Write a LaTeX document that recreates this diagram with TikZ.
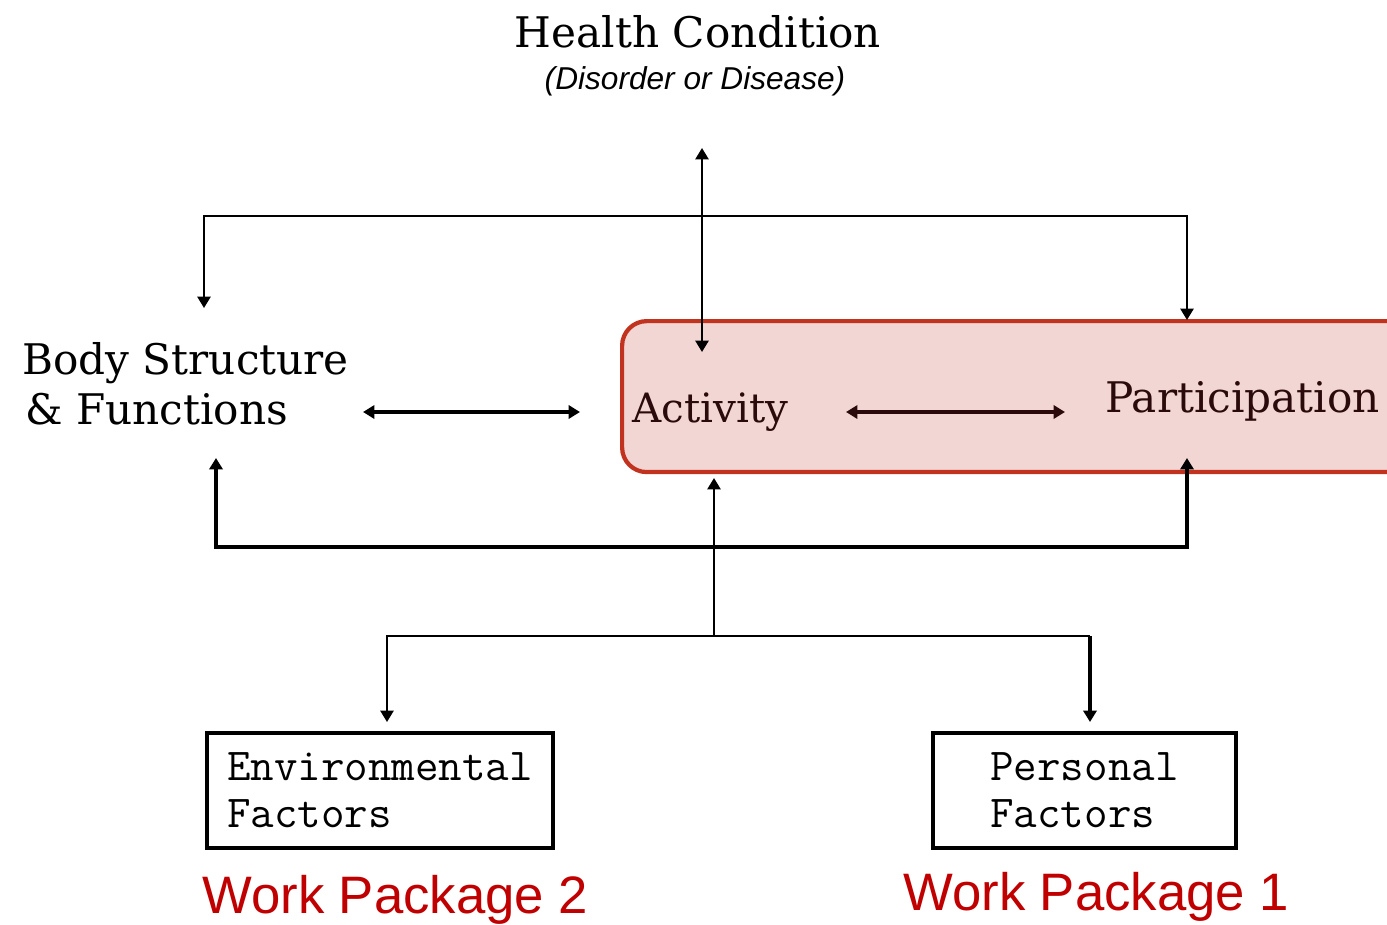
\documentclass[tikz,border=0pt]{standalone}
\usepackage{fontspec}
\usetikzlibrary{arrows.meta}
\newfontfamily\pixserif{DejaVu Serif}
\newfontfamily\wpsans{Liberation Sans}
\definecolor{boxfill}{HTML}{F2D6D3}
\definecolor{boxedge}{HTML}{C2331F}
\definecolor{wpred}{HTML}{C00000}
\definecolor{darktext}{HTML}{2A0A0A}
\begin{document}
\begin{tikzpicture}[x=0.02cm,y=-0.02cm,
  thinline/.style={line width=1.3pt, draw=black},
  thickline/.style={line width=2.3pt, draw=black},
  tips/.style={{Triangle[length=6.5pt,width=7.5pt]}-{Triangle[length=6.5pt,width=7.5pt]}},
  tipend/.style={-{Triangle[length=6.5pt,width=7.5pt]}},
  serlabel/.style={inner sep=0pt, font=\pixserif\fontsize{24}{28}\selectfont},
  factorbox/.style={draw=black, line width=1.8pt, fill=white, inner sep=0pt, align=left,
     font=\ttfamily\fontsize{26}{26.6}\selectfont},
  apbox/.style={draw=boxedge, fill=boxfill, line width=2.4pt, rounded corners=14pt, inner sep=0pt},
  wplabel/.style={inner sep=0pt, text=wpred, font=\wpsans\fontsize{30}{34}\selectfont}
]
\clip (0,0) rectangle (1387,924);
\useasboundingbox (0,0) rectangle (1387,924);

% Activity / Participation box
\node[apbox, anchor=north west, minimum width=16cm, minimum height=3.02cm] (ap) at (620,319) {};

% texts
\node[serlabel, anchor=base] (hc) at (698,47) {Health Condition};
\node[inner sep=0pt, anchor=base, font=\wpsans\itshape\fontsize{18}{20}\selectfont] (hcsub) at (695,89) {(Disorder or Disease)};
\node[serlabel, anchor=base west] (bodyA) at (22,374) {Body Structure};
\node[serlabel, anchor=base west] (bodyB) at (25,424) {\& Functions};
\node[serlabel, anchor=base west, text=darktext, font=\pixserif\fontsize{23}{28}\selectfont] (act) at (632,422) {Activity};
\node[serlabel, anchor=base west, text=darktext] (part) at (1105,412) {Participation};

% factor boxes
\node[factorbox, minimum width=6.92cm, minimum height=2.3cm] (env) at (380,790.5) {Environmental\\Factors};
\node[factorbox, minimum width=6.06cm, minimum height=2.3cm] (pers) at (1084.5,790.5) {Personal\\Factors};

% work package labels
\node[wplabel, anchor=base west] (wp2) at (202,913) {Work Package 2};
\node[wplabel, anchor=base west] (wp1) at (903,910) {Work Package 1};

% connector end points
\coordinate (hcArrow) at (702,148);
\coordinate (actTop) at (702,352);
\coordinate (bodyTop) at (204,308);
\coordinate (partTop) at (1187,320);
\coordinate (bodyBot) at (216,458);
\coordinate (partBot) at (1187,458);
\coordinate (actBot) at (714,478);
\coordinate (split) at (714,636);
\coordinate (envTop) at (387,722);
\coordinate (persTop) at (1090,722);
\coordinate (bodyR) at (363,412);
\coordinate (actL) at (580,412);
\coordinate (actR) at (846,412);
\coordinate (partL) at (1065,412);

% connectors
\draw[thinline, tips] (hcArrow) -- (actTop);
\draw[thinline, tips] (bodyTop) |- (hcArrow |- 0,216) -| (partTop);
\draw[thickline, tips] (bodyBot) |- (actBot |- 0,547) -| (partBot);
\draw[thinline, tipend] (split) -- (actBot);
\draw[thinline, tipend] (split) -| (envTop);
\draw[thinline] (split) -- (persTop |- split);
\draw[thickline, tipend] (persTop |- split) -- (persTop);
\draw[thickline, tips] (bodyR) -- (actL);
\draw[thickline, tips, draw=darktext] (actR) -- (partL);
\end{tikzpicture}
\end{document}
